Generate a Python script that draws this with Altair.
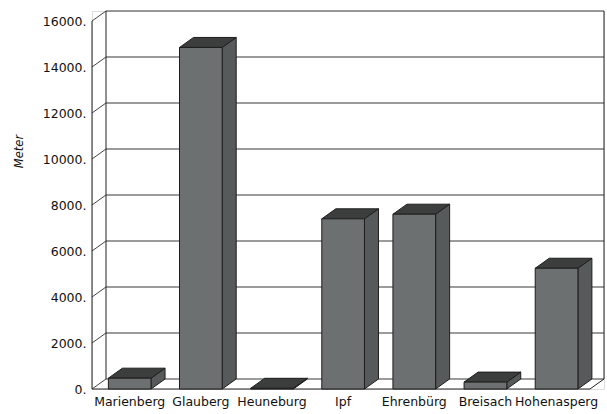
import altair as alt
import pandas as pd

# ---- data ----
categories = ["Marienberg", "Glauberg", "Heuneburg", "Ipf", "Ehrenbürg", "Breisach", "Hohenasperg"]
values = [470, 14850, 30, 7400, 7600, 300, 5250]
tick_values = [0, 2000, 4000, 6000, 8000, 10000, 12000, 14000, 16000]

# ---- 3D style constants ----
DX = 0.197      # depth offset in category units
DY = 435        # depth offset in value units
BAR_OFF = 0.23
BAR_W = 0.60
N = len(categories)
XMAX = N + DX
YTOP = max(tick_values)
YMAX = YTOP + DY

FONT = "DejaVu Sans"
FRONT = "#6d7070"
SIDE = "#575a5a"
TOPC = "#3c3e3e"
EDGE = "#1e1e1e"

xs = alt.Scale(domain=[0, XMAX], nice=False, zero=False)
ys = alt.Scale(domain=[0, YMAX], nice=False, zero=False)
yax = alt.Axis(
    values=tick_values, labelExpr="datum.value + '.'", ticks=False, domain=False, grid=False,
    labelFont=FONT, labelFontSize=12.5, labelColor="#111", labelPadding=6,
    title="Meter", titleFont=FONT, titleFontSize=11.5, titleFontStyle="italic",
    titleFontWeight="normal", titleColor="#111", titleX=-73, titleY=140,
    titleAlign="center", titleBaseline="middle",
)

lefts = [i + BAR_OFF for i in range(N)]
bars = pd.DataFrame({
    "name": categories,
    "v": values,
    "left": lefts,
    "right": [l + BAR_W for l in lefts],
    "center": [l + BAR_W / 2 for l in lefts],
    "zero": [0] * N,
})

side_rows, top_rows = [], []
for name, v, l in zip(categories, values, lefts):
    r = l + BAR_W
    side_rows.append({"name": name, "sx": r, "sy": v, "sy2": 0})
    side_rows.append({"name": name, "sx": r + DX, "sy": v + DY, "sy2": DY})
    top_rows.append({"name": name, "ty": v, "tx": l, "tx2": r})
    top_rows.append({"name": name, "ty": v + DY, "tx": l + DX, "tx2": r + DX})
side_df = pd.DataFrame(side_rows)
top_df = pd.DataFrame(top_rows)

grid_df = pd.DataFrame({"x": [DX] * len(tick_values), "x2": [XMAX] * len(tick_values),
                        "y": [t + DY for t in tick_values], "y2": [t + DY for t in tick_values]})
diag_df = pd.DataFrame({"x": [0] * len(tick_values), "x2": [DX] * len(tick_values),
                        "y": tick_values, "y2": [t + DY for t in tick_values]})
edges_df = pd.DataFrame([
    {"x": 0, "x2": 0, "y": 0, "y2": YTOP},            # front axis
    {"x": DX, "x2": DX, "y": DY, "y2": YMAX},         # back wall left
    {"x": XMAX, "x2": XMAX, "y": DY, "y2": YMAX},     # back wall right
    {"x": 0, "x2": N, "y": 0, "y2": 0},               # floor front edge
    {"x": N, "x2": XMAX, "y": 0, "y2": DY},           # floor right diagonal
])


def rule_layer(df, color, width):
    return alt.Chart(df).mark_rule(color=color, strokeWidth=width).encode(
        x=alt.X("x:Q", scale=xs, axis=None), x2="x2:Q",
        y=alt.Y("y:Q", scale=ys, axis=yax), y2="y2:Q",
    )


grid = rule_layer(grid_df, "#7a7a7a", 1.3)
diag = rule_layer(diag_df, "#444444", 1)
edges = rule_layer(edges_df, "#222222", 1)

front = alt.Chart(bars).mark_rect(fill=FRONT, stroke=EDGE, strokeWidth=1).encode(
    x=alt.X("left:Q", scale=xs, axis=None), x2="right:Q",
    y=alt.Y("zero:Q", scale=ys, axis=yax), y2="v:Q",
)

side = alt.Chart(side_df).mark_area(orient="vertical", fill=SIDE, stroke=EDGE, strokeWidth=1,
                                     interpolate="linear").encode(
    x=alt.X("sx:Q", scale=xs, axis=None),
    y=alt.Y("sy:Q", scale=ys, axis=yax, stack=None), y2="sy2:Q",
    detail="name:N",
)

top = alt.Chart(top_df).mark_area(orient="horizontal", fill=TOPC, stroke=EDGE, strokeWidth=1,
                                   interpolate="linear").encode(
    y=alt.Y("ty:Q", scale=ys, axis=yax),
    x=alt.X("tx:Q", scale=xs, axis=None, stack=None), x2="tx2:Q",
    detail="name:N",
)

labels = alt.Chart(bars).mark_text(baseline="top", align="center", dy=7, font=FONT,
                                   fontSize=12.5, color="#111").encode(
    x=alt.X("center:Q", scale=xs, axis=None),
    y=alt.Y("zero:Q", scale=ys, axis=yax),
    text="name:N",
)

chart = alt.layer(grid, diag, edges, side, top, front, labels).properties(
    width=512, height=378,
    autosize=alt.AutoSizeParams(type="none"),
    padding={"left": 92, "top": 11, "right": 3, "bottom": 25},
).configure_view(stroke=None).configure(background="white")

chart.save("out.html", embed_options={"renderer": "svg", "actions": False})
